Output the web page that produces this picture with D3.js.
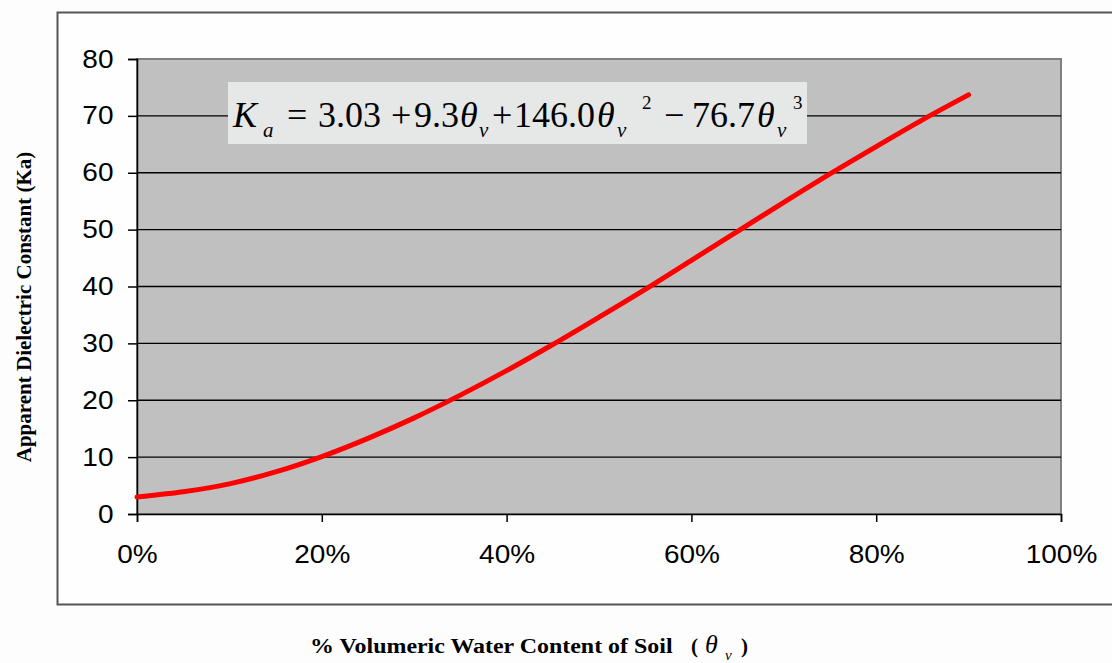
<!DOCTYPE html>
<html lang="en">
<head>
<meta charset="utf-8">
<title>Topp equation - Ka vs volumetric water content</title>
<script src="https://cdn.jsdelivr.net/npm/d3@7"></script>
<style>
  body { margin: 0; background: #fdfdfd; }
</style>
</head>
<body>
<div id="main"></div>
<script>
// volumetric water content (fraction) and Ka
const theta = [0, 0.05, 0.10, 0.15, 0.20, 0.25, 0.30, 0.35, 0.40, 0.45, 0.50, 0.55, 0.60, 0.65, 0.70, 0.75, 0.80, 0.85, 0.90];
const ka    = [3.0, 3.9, 5.3, 7.4, 10.1, 13.3, 16.9, 20.9, 25.2, 29.8, 34.6, 39.5, 44.6, 49.7, 54.8, 59.8, 64.6, 69.3, 73.7];
const yTicks = [0, 10, 20, 30, 40, 50, 60, 70, 80];
const xTicks = [0, 0.2, 0.4, 0.6, 0.8, 1.0];

const W = 1112, H = 663;
const serif = '"Liberation Serif", "Times New Roman", serif';
const sans = 'Arial, "Liberation Sans", sans-serif';
const stretch = 1.12;   // the original tick/title text is drawn a bit wide

const svg = d3.select('#main').append('svg')
  .attr('width', W).attr('height', H);

// outer chart frame
svg.append('rect')
  .attr('x', 57.5).attr('y', 12.5)
  .attr('width', 1070).attr('height', 592)
  .attr('fill', '#fefefe')
  .attr('stroke', '#555').attr('stroke-width', 2);

const plot = {left: 137, top: 59, right: 1061, bottom: 514};

const x = d3.scaleLinear().domain([0, 1]).range([plot.left, plot.right]);
const y = d3.scaleLinear().domain([0, 80]).range([plot.bottom, plot.top]);

// plot area background
svg.append('rect')
  .attr('x', plot.left).attr('y', plot.top)
  .attr('width', plot.right - plot.left).attr('height', plot.bottom - plot.top)
  .attr('fill', '#c0c0c0')
  .attr('stroke', '#808080').attr('stroke-width', 2);

// horizontal gridlines
svg.append('g')
  .selectAll('line')
  .data(yTicks.filter(d => d > 0 && d < 80))
  .enter().append('line')
  .attr('x1', plot.left).attr('x2', plot.right)
  .attr('y1', d => y(d)).attr('y2', d => y(d))
  .attr('stroke', '#000').attr('stroke-width', 1.3);

// y axis
const yAxis = svg.append('g')
  .attr('transform', `translate(${plot.left},0)`)
  .call(d3.axisLeft(y).tickValues(yTicks).tickSize(9).tickPadding(12));
yAxis.selectAll('text')
  .attr('font-family', sans)
  .attr('font-size', '25px').attr('fill', '#000')
  .attr('transform', `scale(${stretch},1)`);
yAxis.selectAll('line, path').attr('stroke', '#000').attr('stroke-width', 1.5);

// x axis
const xAxis = svg.append('g')
  .attr('transform', `translate(0,${plot.bottom})`)
  .call(d3.axisBottom(x).tickValues(xTicks).tickSize(8).tickPadding(23)
    .tickFormat(d3.format('.0%')));
xAxis.selectAll('text')
  .attr('font-family', sans)
  .attr('font-size', '25px').attr('fill', '#000')
  .attr('transform', `scale(${stretch},1)`);
xAxis.selectAll('line, path').attr('stroke', '#000').attr('stroke-width', 1.5);

// curve
const line = d3.line()
  .x((d, i) => x(theta[i]))
  .y(d => y(d))
  .curve(d3.curveMonotoneX);
svg.append('path')
  .datum(ka)
  .attr('d', line)
  .attr('fill', 'none')
  .attr('stroke', '#ff0000')
  .attr('stroke-width', 5)
  .attr('stroke-linecap', 'round');

// equation box
svg.append('rect')
  .attr('x', 228).attr('y', 82)
  .attr('width', 579).attr('height', 62)
  .attr('fill', '#e6e8e8');

// equation pieces: [text, x, kind]  kind: m=main, i=italic main, s=subscript, p=superscript
const eqParts = [
  ['K', 233, 'i'], ['a', 263, 's'], ['=', 287, 'm'], ['3.03', 318, 'm'], ['+', 391, 'm'],
  ['9.3', 414, 'm'], ['θ', 460, 'i'], ['v', 479, 's'], ['+', 492, 'm'],
  ['146.0', 514, 'm'], ['θ', 597, 'i'], ['v', 617, 's'], ['2', 642, 'p'],
  ['−', 664, 'm'], ['76.7', 692, 'm'], ['θ', 757, 'i'], ['v', 777, 's'], ['3', 793, 'p']
];
svg.append('g').selectAll('text')
  .data(eqParts)
  .enter().append('text')
  .attr('x', d => d[1])
  .attr('y', d => d[2] === 's' ? 137 : d[2] === 'p' ? 109 : 127)
  .attr('font-family', serif)
  .attr('font-style', d => (d[2] === 'i' || d[2] === 's') ? 'italic' : 'normal')
  .attr('font-size', d => d[2] === 's' ? '21px' : d[2] === 'p' ? '19px' : '36px')
  .attr('fill', '#000')
  .text(d => d[0]);

// y axis title
svg.append('text')
  .attr('transform', 'translate(31,307) rotate(-90)')
  .attr('text-anchor', 'middle')
  .attr('font-family', serif)
  .attr('font-weight', 'bold').attr('font-size', '21px')
  .text('Apparent Dielectric Constant  (Ka)');

// x axis title
svg.append('text')
  .attr('transform', `translate(310,653) scale(${stretch + 0.02},1)`)
  .attr('font-family', serif)
  .attr('font-weight', 'bold').attr('font-size', '21px')
  .text('% Volumeric Water Content of Soil');
svg.append('text')
  .attr('x', 691).attr('y', 653)
  .attr('font-family', serif)
  .attr('font-weight', 'bold').attr('font-size', '21px')
  .text('(');
svg.append('text')
  .attr('x', 705).attr('y', 653)
  .attr('font-family', serif).attr('font-style', 'italic')
  .attr('font-size', '26px')
  .text('θ');
svg.append('text')
  .attr('x', 725).attr('y', 660)
  .attr('font-family', serif).attr('font-style', 'italic')
  .attr('font-size', '15px')
  .text('v');
svg.append('text')
  .attr('x', 741).attr('y', 653)
  .attr('font-family', serif)
  .attr('font-weight', 'bold').attr('font-size', '21px')
  .text(')');
</script>
</body>
</html>
